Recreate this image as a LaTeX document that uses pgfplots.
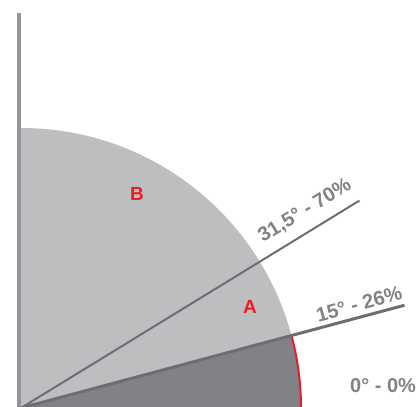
\documentclass[border=0pt]{standalone}
\usepackage{pgfplots}
\pgfplotsset{compat=1.18}
\usepackage{fontspec}
\setmainfont{Liberation Sans}
\definecolor{lightsec}{HTML}{BCBEC0}
\definecolor{darksec}{HTML}{808285}
\definecolor{linegray}{HTML}{6D6E71}
\definecolor{axgray}{HTML}{939598}
\definecolor{txtgray}{HTML}{808285}
\definecolor{redA}{HTML}{ED1C24}
\begin{document}
\begin{tikzpicture}
\begin{axis}[at={(0,0)}, anchor=south west, scale only axis, x=1pt, y=1pt,
  xmin=-21, xmax=395, ymin=1, ymax=408, hide axis, clip=false]
% sectors: B (15 to 90 deg), A (0 to 15 deg), radius 280
\fill[lightsec] (axis cs:0,0) -- (axis cs:280,0) arc[start angle=0,end angle=90,radius=280pt] -- cycle;
\fill[darksec] (axis cs:0,0) -- (axis cs:280,0) arc[start angle=0,end angle=15,radius=280pt] -- cycle;
\draw[redA, line width=2pt] (axis cs:280,0) arc[start angle=0,end angle=15,radius=280pt];
% vertical axis line
\addplot[axgray, line width=4.5pt] coordinates {(-2,-10) (-2,395)};
% radial lines (angle, radius)
\addplot[linegray, line width=2pt, data cs=polar] coordinates {(0,0) (31.5,397)};
\addplot[linegray, line width=3pt, data cs=polar] coordinates {(0,0) (15,397)};
% labels
\node[text=redA, font=\fontsize{19}{22}\selectfont\bfseries] at (axis cs:116,214) {B};
\node[text=redA, font=\fontsize{19}{22}\selectfont\bfseries] at (axis cs:229,101) {A};
\node[text=txtgray, rotate=31.5, font=\fontsize{20}{23}\selectfont\bfseries] at (axis cs:284,197) {31,5° - 70\%};
\node[text=txtgray, rotate=15, font=\fontsize{20}{23}\selectfont\bfseries] at (axis cs:338,104) {15° - 26\%};
\node[text=txtgray, anchor=west, inner sep=0pt, font=\fontsize{20}{23}\selectfont\bfseries] at (axis cs:329,22) {0° - 0\%};
\end{axis}
\pgfresetboundingbox
\useasboundingbox (0,0) rectangle (416pt,407pt);
\end{tikzpicture}
\end{document}
